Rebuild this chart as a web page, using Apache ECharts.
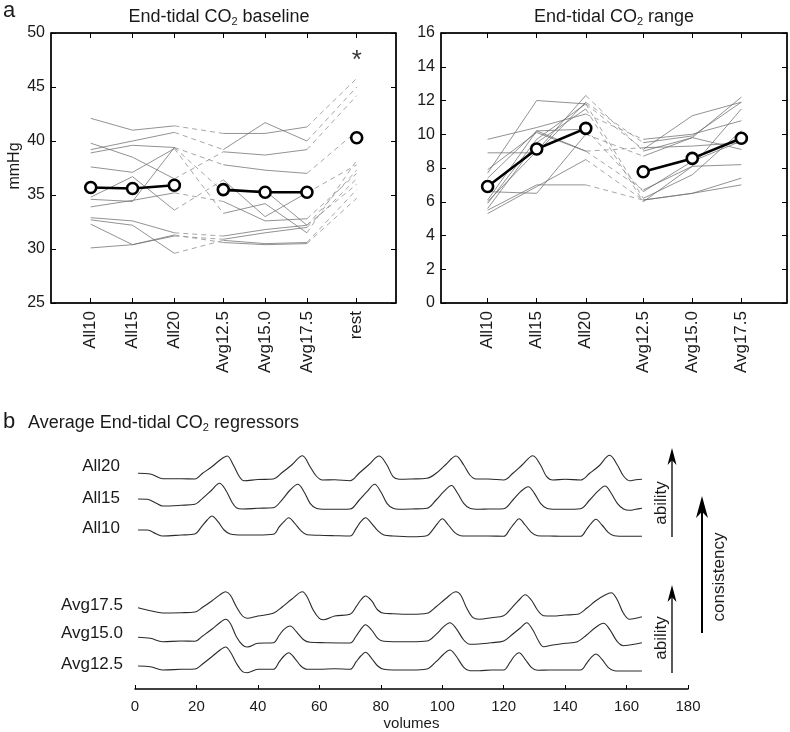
<!DOCTYPE html>
<html><head><meta charset="utf-8">
<script src="https://cdn.jsdelivr.net/npm/echarts@6/dist/echarts.min.js"></script>
<style>html,body{margin:0;padding:0;background:#fff}#c{width:790px;height:732px}</style>
</head><body><div id="c"></div>
<script>
// ---------- DATA ----------
const catBase = ['All10','All15','All20','Avg12.5','Avg15.0','Avg17.5','rest'];
const catRange = ['All10','All15','All20','Avg12.5','Avg15.0','Avg17.5'];
const baseMean = [35.7, 35.6, 35.9, 35.5, 35.25, 35.25, 40.3];
const baseSubjects = [
  [42.1, 41.0, 41.4, 40.7, 40.7, 41.3, 45.8],
  [39.2, 40.0, 40.8, 39.2, 41.7, 40.0, 45.0],
  [39.8, 38.5, 36.5, 39.0, 38.7, 39.2, 44.2],
  [38.9, 39.6, 39.4, 37.8, 37.3, 37.0, 40.9],
  [37.6, 37.1, 39.3, 33.3, 34.2, 31.5, 38.2],
  [34.8, 36.7, 33.6, 36.4, 33.0, 35.2, 37.8],
  [34.6, 34.4, 39.4, 35.3, 35.4, 32.2, 37.3],
  [33.9, 34.5, 35.2, 34.4, 32.6, 32.8, 37.0],
  [32.9, 32.6, 31.5, 31.2, 31.8, 32.2, 36.0],
  [32.3, 30.4, 31.3, 30.6, 30.4, 30.5, 34.7],
  [30.1, 30.4, 31.2, 30.9, 31.5, 32.0, 36.5],
  [32.7, 32.2, 29.6, 30.8, 30.5, 30.6, 35.5]
];
const baseStarValue = 47.9;
const rangeMean = [6.9, 9.13, 10.35, 7.78, 8.57, 9.76];
const rangeSubjects = [
  [9.7, 10.4, 11.2, 9.7, 10.0, 10.8],
  [8.9, 8.9, 11.9, 9.5, 9.9, 11.9],
  [7.9, 10.1, 9.0, 9.2, 9.3, 9.5],
  [7.7, 12.0, 11.8, 9.1, 11.1, 11.9],
  [6.6, 6.5, 10.0, 8.7, 9.8, 12.2],
  [6.1, 10.2, 9.0, 6.7, 8.1, 11.5],
  [5.9, 9.7, 11.8, 6.2, 7.6, 10.2],
  [5.6, 9.5, 11.5, 6.0, 8.1, 8.2],
  [5.5, 7.0, 7.0, 6.1, 6.5, 7.0],
  [5.3, 6.9, 8.5, 6.1, 6.5, 7.4],
  [6.0, 9.0, 12.3, 9.0, 9.8, 9.1],
  [7.4, 10.2, 10.3, 6.6, 8.4, 9.6]
];
const baseTicks = [25, 30, 35, 40, 45, 50];
const rangeTicks = [0, 2, 4, 6, 8, 10, 12, 14, 16];
const volTicks = [0, 20, 40, 60, 80, 100, 120, 140, 160, 180];

// regressor traces: [volume, relative height]
const regAll20 = [[1,6.7],[5,6],[9,1.3],[15,1.3],[19.5,1],[22,6.7],[25,13.3],[28,20.7],[30,24],[32,15],[34,3.3],[35.5,-0.7],[40,0.5],[45,1],[48,7.7],[51,15],[54.5,24.3],[57,13.3],[59,4],[61,0],[65,0.3],[70,-0.7],[73,7],[76,15],[79.5,24],[82,15],[84,3.3],[86,0.7],[90,1],[95,1.7],[98,6.7],[101,15],[104.5,24],[107,15],[109,5],[111,1],[115,1],[120,0],[123,6.7],[126,15],[129.5,24.3],[132,15],[134,3.3],[136,0],[140,0.7],[145,0],[148,6.7],[151,14],[154.5,24.7],[157,15],[159,4],[161,-0.7],[163,0.3],[165,0.7]];
const regAll15 = [[1,10],[4,9.7],[7,5.7],[9,3],[15,3.7],[19.5,4.7],[22,10.7],[25,19],[27.5,25.7],[29.5,19],[31.5,7.3],[33,1.3],[35,0],[40,0.7],[45,1.3],[48,9.7],[50.5,19],[53,24.7],[55,17.3],[57,5.7],[59,0.7],[62,-0.3],[65,-0.3],[70,0],[73,9],[75.5,17.3],[78,24.7],[80,17.3],[82,5.7],[84,0.7],[86,-0.3],[90,0],[95,0.7],[98,9],[100.5,17.3],[103,23.5],[105,15.7],[107,5.7],[109,0.7],[112,-0.3],[115,0],[120,0.3],[123,9],[125.5,17.3],[128,22.3],[130,15.7],[132,5.7],[134,0.7],[137,-0.3],[140,-0.3],[145,0.3],[148,9],[150.5,17.3],[153,23],[155,15.7],[157,5.7],[159,0],[161,-1.3],[163,-0.3],[165,0.7]];
const regAll10 = [[1,6],[4,6],[7,2],[9,0],[15,1],[19.5,2],[21.5,8.7],[23.5,16],[25,20],[27,14.3],[29,6],[31,2],[35,1],[40,1],[45,1.7],[47,9.3],[48.5,14.3],[50,18.3],[52,12.7],[54,5.3],[56,1.3],[60,0.7],[65,0.3],[70,0],[72,7.7],[73.5,14.3],[75,18.3],[77,12.7],[79,5.3],[81,1],[84,0],[90,-0.7],[95,0.3],[97,6.7],[98.5,12.7],[100,17.3],[102,11],[104,3.7],[106,0.3],[110,0],[115,0],[120,-0.3],[122,6.7],[123.5,12.7],[125,17.3],[127,11],[129,3.7],[131,0.3],[135,0],[140,-0.3],[145,-0.3],[147,6.7],[148.5,12.7],[150,16.7],[152,11],[154,3.7],[156,0.3],[160,-0.3],[165,-0.3]];
const regAvg175 = [[1,12.3],[5,9.3],[9,7],[15,7.3],[19.5,8],[22,12.7],[25,19],[28,26],[29.5,28.3],[31,25],[33,13.3],[35,4],[36.5,1.7],[40,4],[45,6.7],[48,13.3],[51,20.7],[54.5,28.3],[56,23.3],[58,10],[60,1.7],[61.5,0.3],[65,4],[70,5.7],[72,13.3],[73.5,20],[75,24],[77,19.3],[79,10],[81,6.7],[84,6.3],[90,5.7],[95,6.7],[98,13.3],[101,21],[104.5,28.3],[106,25],[108,11.7],[110,2.3],[112,0.7],[116,2.3],[120,4.3],[122.5,11.7],[125,20],[127,25.3],[129,20],[131,10],[133,4.3],[136,4],[140,5],[144,5.7],[147,11.7],[150,19.3],[153,25],[155,27.3],[157,20],[159,6.7],[161,0.7],[163,1.7],[165,3.3]];
const regAvg150 = [[1,9.7],[5,8.7],[9,5.3],[15,6],[19.5,5.7],[22,11],[25,17.7],[28,25.3],[29.5,27.7],[31,23.7],[33,10.3],[35,2],[36.5,0],[40,3.7],[45,4.3],[47,12],[48.5,17.7],[50.5,21],[52.5,15.3],[55,7],[57,4.7],[62,4.3],[70,4],[72,11],[73.5,17.7],[75,22.3],[77,17],[79,8.7],[81,5.7],[84,5.3],[90,5.3],[95,6],[98,12.7],[100.5,20.3],[102.5,24.3],[104.5,18.7],[107,7],[109,2.7],[112,3],[116,4.3],[120,6],[123,13],[125.5,19.3],[127.5,24.3],[129.5,17],[131.5,5.3],[133,0.3],[136,2],[140,3.7],[144,5.3],[147,12],[150,19.7],[152.5,23.7],[154.5,17.7],[157,5.3],[159,1.3],[161,2],[163,3],[165,4.3]];
const regAvg125 = [[1,7],[5,6.3],[9,3],[15,3.7],[19.5,4],[22,9],[25,16.3],[28,23.7],[29.5,26],[31,21.3],[33,9.7],[35,1.3],[36.5,0.3],[40,3.7],[45,3.7],[47,11.3],[48.5,17],[50,20.3],[52,14.7],[54,7],[56,3.7],[60,3.7],[65,4.3],[70,3.7],[72,11.3],[73.5,17],[75,20.7],[77,14.7],[79,7],[81,3.7],[84,3],[90,3],[95,4],[98,11.3],[100.5,19],[102.5,23],[104.5,17],[107,5.7],[109,2.3],[112,2.3],[116,3],[120,3],[122,10.3],[123.5,17],[125,20.3],[127,13.7],[129,5.7],[131,2.7],[135,3],[140,3],[145,3],[147,9.7],[148.5,15.7],[150,19],[152,13.7],[154,5.7],[156,2.3],[160,2],[165,2]];
const regNames = ['All20','All15','All10','Avg17.5','Avg15.0','Avg12.5'];
const regData = [regAll20, regAll15, regAll10, regAvg175, regAvg150, regAvg125];

// ---------- LAYOUT ----------
const posBase = [1, 2, 3, 4.17, 5.17, 6.17, 7.36];
const posRange = [1, 2, 3, 4.17, 5.17, 6.17];
const FONT = 'Liberation Sans, Arial, Helvetica, sans-serif';
const TXT = '#1a1a1a';
const regRef = [480, 509, 536, 620, 647, 673]; // baseline pixel row of each trace

function pairs(pos, vals, idx) { return idx.map(i => [pos[i], vals[i]]); }

const grids = [
  {left: 51, top: 33, width: 345, height: 270, show: true, borderColor: '#000', borderWidth: 1, outerBoundsMode: 'none'},
  {left: 441, top: 33, width: 346, height: 270, show: true, borderColor: '#000', borderWidth: 1, outerBoundsMode: 'none'}
];
regRef.forEach((r, i) => {
  const last = i === regRef.length - 1;
  grids.push({left: 135, width: 553, top: r - 32, height: last ? 48 : 40, show: false, outerBoundsMode: 'none'});
});

function catLabel(pos, cats) {
  return v => { for (let i = 0; i < pos.length; i++) if (Math.abs(pos[i] - v) < 1e-6) return cats[i]; return ''; };
}
const axLine = {show: true, onZero: false, lineStyle: {color: '#000', width: 1.5}};
const xAxes = [], yAxes = [];
[[0, posBase, catBase, 0.05, 8.3], [1, posRange, catRange, 0.05, 7.1]].forEach(([g, pos, cats, mn, mx]) => {
  xAxes.push({type: 'value', gridIndex: g, min: mn, max: mx, position: 'bottom', axisLine: axLine,
    splitLine: {show: false},
    axisTick: {show: true, inside: true, length: 5, customValues: pos, lineStyle: {color: '#000', width: 1}},
    axisLabel: {show: true, customValues: pos, rotate: 90, margin: 8, formatter: catLabel(pos, cats),
      fontSize: 17, color: TXT, fontFamily: FONT}});
  xAxes.push({type: 'value', gridIndex: g, min: mn, max: mx, position: 'top', axisLine: axLine,
    splitLine: {show: false},
    axisTick: {show: true, inside: true, length: 5, customValues: pos, lineStyle: {color: '#000', width: 1}},
    axisLabel: {show: false}});
});
[[0, 25, 50, 5], [1, 0, 16, 2]].forEach(([g, mn, mx, iv]) => {
  yAxes.push({type: 'value', gridIndex: g, min: mn, max: mx, interval: iv, position: 'left', axisLine: axLine,
    splitLine: {show: false},
    axisTick: {show: true, inside: true, length: 5, lineStyle: {color: '#000', width: 1}},
    axisLabel: {fontSize: 16, color: TXT, fontFamily: FONT, margin: 6}});
  yAxes.push({type: 'value', gridIndex: g, min: mn, max: mx, interval: iv, position: 'right', axisLine: axLine,
    splitLine: {show: false},
    axisTick: {show: true, inside: true, length: 5, lineStyle: {color: '#000', width: 1}},
    axisLabel: {show: false}});
});
// trace grids
regRef.forEach((r, i) => {
  const last = i === regRef.length - 1;
  const g = i + 2;
  xAxes.push({type: 'value', gridIndex: g, min: 0, max: 180, interval: 20, show: last,
    axisLine: axLine, splitLine: {show: false},
    axisTick: {show: true, inside: true, length: 4, lineStyle: {color: '#000', width: 1}},
    axisLabel: {fontSize: 15, color: TXT, fontFamily: FONT, margin: 10},
    name: last ? 'volumes' : '', nameLocation: 'middle', nameGap: 27,
    nameTextStyle: {fontSize: 15, color: TXT, fontFamily: FONT}});
  yAxes.push({type: 'value', gridIndex: g, min: last ? -16 : -8, max: 32, show: false, splitLine: {show: false}});
});

const series = [];
const thin = {color: '#6e6e6e', width: 0.75};
const dash = {color: '#888', width: 0.75, type: [5, 4]};
function addSubjects(subjects, pos, xi, yi, segs) {
  subjects.forEach(s => {
    segs.forEach(([idx, style]) => {
      series.push({type: 'line', xAxisIndex: xi, yAxisIndex: yi, data: pairs(pos, s, idx), symbol: 'none',
        lineStyle: style, silent: true, animation: false, z: 2});
    });
  });
}
addSubjects(baseSubjects, posBase, 0, 0, [[[0,1,2], thin], [[3,4,5], thin], [[2,3], dash], [[5,6], dash]]);
addSubjects(rangeSubjects, posRange, 2, 2, [[[0,1,2], thin], [[3,4,5], thin], [[2,3], dash]]);
function addMean(vals, pos, xi, yi, groups) {
  groups.forEach(idx => {
    series.push({type: 'line', xAxisIndex: xi, yAxisIndex: yi, data: pairs(pos, vals, idx),
      symbol: 'circle', symbolSize: 11, showSymbol: true,
      itemStyle: {color: '#fff', borderColor: '#000', borderWidth: 2.6},
      lineStyle: {color: '#000', width: 2.6}, animation: false, z: 5});
  });
}
addMean(baseMean, posBase, 0, 0, [[0,1,2], [3,4,5], [6]]);
addMean(rangeMean, posRange, 2, 2, [[0,1,2], [3,4,5]]);
// significance star
series.push({type: 'scatter', xAxisIndex: 0, yAxisIndex: 0, data: [[posBase[6], baseStarValue]], symbolSize: 0,
  label: {show: true, formatter: '*', position: 'inside', fontSize: 26, color: '#000', fontFamily: FONT, offset: [0, 5]},
  animation: false, z: 6});
// regressor traces
regData.forEach((d, i) => {
  series.push({type: 'line', xAxisIndex: 4 + i, yAxisIndex: 4 + i, data: d, symbol: 'none', smooth: 0.35,
    lineStyle: {color: '#2a2a2a', width: 1.1}, animation: false});
});

// ---------- annotations ----------
const labelPos = [[120, 466], [120, 498], [120, 528], [123, 605], [123, 633], [123, 664]];
const graphic = [
  {type: 'text', left: 3, top: 0, style: {text: 'a', font: '22px ' + FONT, fill: TXT}},
  {type: 'text', left: 3, top: 411, style: {text: 'b', font: '22px ' + FONT, fill: TXT}},
  {type: 'text', x: 15, y: 166, rotation: Math.PI / 2, style: {text: 'mmHg', font: '16px ' + FONT, fill: TXT, align: 'center', verticalAlign: 'middle'}},
  {type: 'text', x: 219, y: 17, style: {text: 'End-tidal CO{s|2} baseline', font: '18px ' + FONT, fill: TXT, align: 'center', verticalAlign: 'middle',
    rich: {s: {fontSize: 11, fontFamily: FONT, fill: TXT, padding: [9, 0, 0, 0]}}}},
  {type: 'text', x: 614, y: 17, style: {text: 'End-tidal CO{s|2} range', font: '18px ' + FONT, fill: TXT, align: 'center', verticalAlign: 'middle',
    rich: {s: {fontSize: 11, fontFamily: FONT, fill: TXT, padding: [9, 0, 0, 0]}}}},
  {type: 'text', x: 28, y: 423, style: {text: 'Average End-tidal CO{s|2} regressors', font: '18px ' + FONT, fill: TXT, align: 'left', verticalAlign: 'middle',
    rich: {s: {fontSize: 11, fontFamily: FONT, fill: TXT, padding: [9, 0, 0, 0]}}}}
];
regNames.forEach((n, i) => {
  graphic.push({type: 'text', x: labelPos[i][0], y: labelPos[i][1], style: {text: n, font: '17px ' + FONT, fill: TXT, align: 'right', verticalAlign: 'middle'}});
});
function arrow(x, yTop, yBot, w, hl, hw) {
  return [
    {type: 'line', shape: {x1: x, y1: yBot, x2: x, y2: yTop + hl * 0.7}, style: {stroke: '#000', lineWidth: w}},
    {type: 'polygon', shape: {points: [[x, yTop], [x - hw, yTop + hl], [x, yTop + hl * 0.72], [x + hw, yTop + hl]]}, style: {fill: '#000'}}
  ];
}
graphic.push(...arrow(672, 448, 537, 1.3, 17, 4.5));
graphic.push(...arrow(672, 585, 673, 1.3, 17, 4.5));
graphic.push(...arrow(702, 496, 633, 2, 22, 6));
graphic.push({type: 'text', x: 661, y: 503, rotation: Math.PI / 2, style: {text: 'ability', font: '17px ' + FONT, fill: TXT, align: 'center', verticalAlign: 'middle'}});
graphic.push({type: 'text', x: 661, y: 638, rotation: Math.PI / 2, style: {text: 'ability', font: '17px ' + FONT, fill: TXT, align: 'center', verticalAlign: 'middle'}});
graphic.push({type: 'text', x: 719, y: 577, rotation: Math.PI / 2, style: {text: 'consistency', font: '17px ' + FONT, fill: TXT, align: 'center', verticalAlign: 'middle'}});

const chart = echarts.init(document.getElementById('c'), null, {renderer: 'canvas'});
chart.setOption({
  backgroundColor: '#fff', animation: false,
  textStyle: {fontFamily: FONT},
  grid: grids, xAxis: xAxes, yAxis: yAxes, series: series, graphic: graphic
});
</script></body></html>
